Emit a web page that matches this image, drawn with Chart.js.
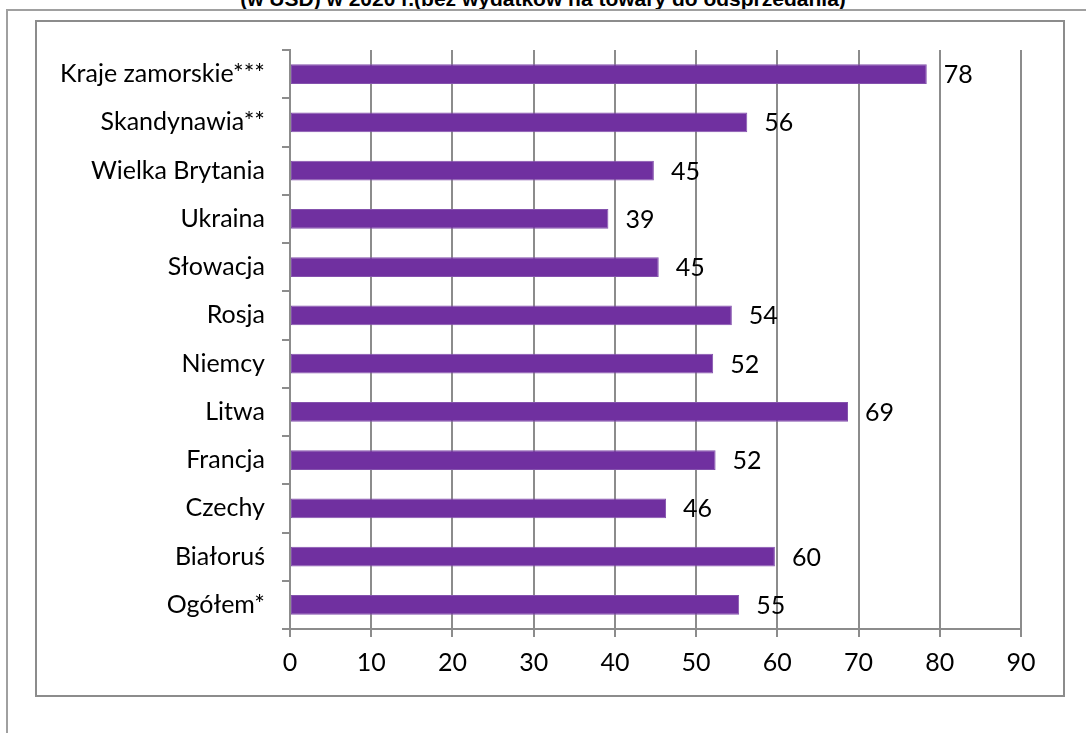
<!DOCTYPE html>
<html>
<head>
<meta charset="utf-8">
<script src="https://cdn.jsdelivr.net/npm/chart.js@4.4.1/dist/chart.umd.min.js"></script>
<style>
    body { margin: 0; background: #fff; overflow: hidden; }
    #wrap { position: relative; width: 1086px; height: 733px; }
    #title {
        position: absolute; left: 0; width: 1086px; top: -12px;
        text-align: center; font: bold 21px "Liberation Sans", Arial, sans-serif;
        line-height: 21px; color: #000; white-space: nowrap;
    }
    #outer {
        position: absolute; left: 6px; top: 9px; width: 1100px; height: 740px;
        border-left: 2px solid #a0a0a0; border-top: 2px solid #a0a0a0;
    }
    #inner {
        position: absolute; left: 35px; top: 20px; width: 1026px; height: 673px;
        border: 2px solid #8c8c8c;
    }
    canvas { position: absolute; left: 0; top: 0; }
</style>
</head>
<body>
<div id="wrap">
    <div id="title">(w USD) w 2020 r.(bez wydatków na towary do odsprzedania)</div>
    <div id="outer"></div>
    <div id="inner"></div>
    <canvas id="myChart" width="1086" height="733"></canvas>
</div>
<script>
let countries = [
    "Kraje zamorskie***", "Skandynawia**", "Wielka Brytania", "Ukraina",
    "Słowacja", "Rosja", "Niemcy", "Litwa", "Francja", "Czechy",
    "Białoruś", "Ogółem*"
];
let spending = [78.4, 56.3, 44.8, 39.2, 45.4, 54.4, 52.1, 68.7, 52.4, 46.3, 59.7, 55.3];
let xTicks = [0, 10, 20, 30, 40, 50, 60, 70, 80, 90];

let labelFont = "Lato, 'Open Sans', sans-serif";

// value labels to the right of each bar
let valueLabels = {
    id: "valueLabels",
    afterDatasetsDraw: (chart) => {
        let ctx = chart.ctx;
        let meta = chart.getDatasetMeta(0);
        ctx.save();
        ctx.font = "25px " + labelFont;
        ctx.fillStyle = "#000";
        ctx.textAlign = "left";
        ctx.textBaseline = "middle";
        meta.data.forEach((bar, i) => {
            ctx.fillText(Math.round(spending[i]), bar.x + 17, bar.y + 1);
        });
        ctx.restore();
    },
};

var ctx = document.getElementById("myChart").getContext("2d");
var myChart = new Chart(ctx, {
    type: "bar",
    data: {
        labels: countries,
        datasets: [
            {
                data: spending,
                backgroundColor: "#7030a0",
                borderColor: "#8452ad",
                borderWidth: 1,
                borderSkipped: false,
                barPercentage: 0.41,
                categoryPercentage: 1,
            },
        ],
    },
    options: {
        indexAxis: "y",
        responsive: false,
        animation: false,
        layout: { padding: { top: 50, right: 65, left: 0, bottom: 0 } },
        plugins: {
            legend: { display: false },
            tooltip: { enabled: false },
        },
        scales: {
            x: {
                min: 0,
                max: 90,
                afterBuildTicks: (scale) => {
                    scale.ticks = xTicks.map((v) => ({ value: v }));
                },
                afterFit: (scale) => { scale.height = 104; },
                grid: { color: "#8c8c8c", lineWidth: 2, tickLength: 8 },
                border: { color: "#8c8c8c", width: 2 },
                ticks: {
                    color: "#000",
                    padding: 11,
                    font: { size: 25, family: labelFont },
                },
            },
            y: {
                afterFit: (scale) => { scale.width = 290; },
                grid: {
                    offset: true,
                    drawOnChartArea: false,
                    color: "#8c8c8c",
                    lineWidth: 2,
                    tickLength: 8,
                },
                border: { color: "#8c8c8c", width: 2 },
                ticks: {
                    color: "#000",
                    padding: 17,
                    font: { size: 25, family: labelFont },
                },
            },
        },
    },
    plugins: [valueLabels],
});
</script>
</body>
</html>
